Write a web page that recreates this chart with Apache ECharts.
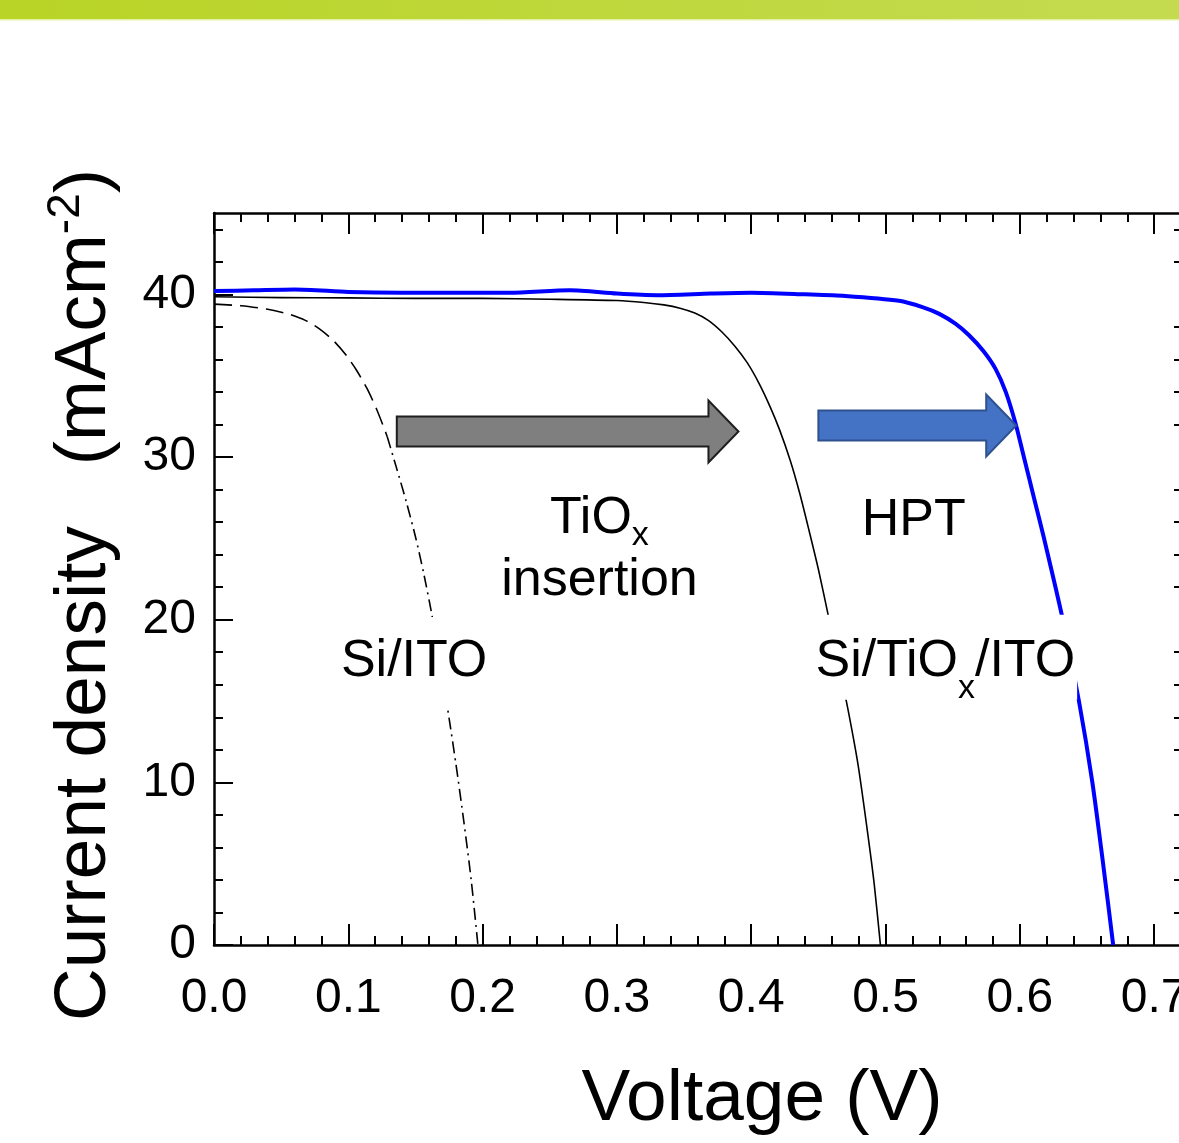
<!DOCTYPE html>
<html>
<head>
<meta charset="utf-8">
<script src="https://cdn.jsdelivr.net/npm/echarts@6/dist/echarts.min.js"></script>
<style>
  html, body { margin: 0; padding: 0; background: #ffffff; }
  #chart { width: 1179px; height: 1143px; }
</style>
</head>
<body>
<div id="chart"></div>
<script>
// J–V curves (voltage in V, current density in mA/cm2)
const hptV = [0, 0.03, 0.06, 0.10, 0.14, 0.18, 0.22, 0.265, 0.30, 0.33, 0.37, 0.40, 0.44, 0.47, 0.51, 0.528, 0.54, 0.552, 0.562, 0.573, 0.582, 0.5895, 0.597, 0.603, 0.6105, 0.618, 0.632, 0.644, 0.654, 0.662, 0.6695];
const hptJ = [40.2, 40.25, 40.3, 40.15, 40.1, 40.1, 40.1, 40.25, 40.05, 39.95, 40.05, 40.1, 40.0, 39.9, 39.6, 39.2, 38.8, 38.2, 37.5, 36.5, 35.4, 34.0, 32.0, 30.0, 27.5, 25.0, 20.0, 15.0, 10.0, 5.0, 0];

const tioxV = [0, 0.05, 0.10, 0.15, 0.20, 0.25, 0.30, 0.32, 0.335, 0.347, 0.358, 0.368, 0.378, 0.388, 0.397, 0.406, 0.414, 0.421, 0.429, 0.436, 0.443, 0.450, 0.457, 0.4645, 0.472, 0.4795, 0.4865, 0.4915, 0.4962];
const tioxJ = [39.85, 39.8, 39.78, 39.75, 39.75, 39.7, 39.62, 39.5, 39.35, 39.15, 38.85, 38.4, 37.7, 36.8, 35.8, 34.5, 33.1, 31.7, 29.8, 27.8, 25.5, 23.1, 20.4, 17.5, 14.5, 11.1, 7.0, 3.8, 0];

// Si/ITO: dashed near the plateau, dash-dot along the steep drop
const itoDashV = [0, 0.02, 0.04, 0.055, 0.068, 0.079, 0.089, 0.098, 0.106, 0.114, 0.121, 0.127, 0.129];
const itoDashJ = [39.4, 39.3, 39.08, 38.8, 38.4, 37.85, 37.15, 36.3, 35.35, 34.2, 32.95, 31.7, 31.25];
const itoDotV = [0.129, 0.136, 0.143, 0.150, 0.156, 0.162, 0.168, 0.174, 0.180, 0.186, 0.1915, 0.1965];
const itoDotJ = [31.25, 29.3, 27.3, 25.1, 22.9, 20.4, 17.6, 14.5, 11.2, 7.6, 4.0, 0];

// Axis ticks
const xMajorTicks = [0, 0.1, 0.2, 0.3, 0.4, 0.5, 0.6, 0.7];
const yMajorTicks = [0, 10, 20, 30, 40];

// Annotations, anchored in data units
const labelNotes = [
  { text: '{a|Si/ITO}', v: 0.149, j: 17.4, pad: [14, 2, 14, 2] },
  { text: '{a|TiO}{t|x}\n{a|insertion}', v: 0.287, j: 24.3, pad: null },
  { text: '{a|HPT}', v: 0.521, j: 26.1, pad: null },
  { text: '{a|Si/TiO}{s|x}{a|/ITO}', v: 0.5445, j: 17.69, pad: [16, 2, 7, 2] }
];
const arrowNotes = [
  { from: 0.1361, to: 0.3905, j: 31.57, fill: '#7f7f7f', stroke: '#1e1e1e' },
  { from: 0.4500, to: 0.5973, j: 31.94, fill: '#4472c4', stroke: '#2f528f' }
];

const FONT = '"Liberation Sans", Arial, Helvetica, sans-serif';
const zip = (a, b) => a.map((v, i) => [v, b[i]]);
const range = (step, max, skip) => {
  const out = [];
  for (let k = 0; k * step <= max + 1e-9; k++) {
    const v = +(k * step).toFixed(4);
    if (!skip || !skip(v)) out.push(v);
  }
  return out;
};

const X_MAX = 0.72, Y_MAX = 45;
const xMinorTicks = range(0.02, X_MAX);
const yMinorTicks = range(2, Y_MAX);
const yRightTicks = range(2, Y_MAX, v => v % 10 === 0);

const tickLine = { color: '#000', width: 2 };
const baseX = (pos, ticks, len, withLine, withLabel) => ({
  type: 'value', position: pos, min: 0, max: X_MAX, interval: 0.1,
  axisLine: { show: withLine, onZero: false, lineStyle: { color: '#000', width: 2.5 } },
  axisTick: { show: true, inside: true, length: len, lineStyle: tickLine, customValues: ticks },
  axisLabel: withLabel ? {
    show: true, customValues: xMajorTicks, fontSize: 48, color: '#000', fontFamily: FONT,
    margin: 30, formatter: v => v.toFixed(1)
  } : { show: false },
  splitLine: { show: false }
});
const baseY = (pos, ticks, len, withLine, withLabel) => ({
  type: 'value', position: pos, min: 0, max: Y_MAX, interval: 10,
  axisLine: { show: withLine, onZero: false, lineStyle: { color: '#000', width: 2.5 } },
  axisTick: { show: true, inside: true, length: len, lineStyle: tickLine, customValues: ticks },
  axisLabel: withLabel ? {
    show: true, customValues: yMajorTicks, fontSize: 48, color: '#000', fontFamily: FONT, margin: 18
  } : { show: false },
  splitLine: { show: false }
});

const lineSeries = (data, color, width, type) => ({
  type: 'line', data, xAxisIndex: 0, yAxisIndex: 0,
  showSymbol: false, smooth: 0.25, silent: true,
  lineStyle: { color, width, type: type || 'solid', cap: 'butt', join: 'round' },
  z: 3
});

const option = {
  animation: false,
  backgroundColor: '#ffffff',
  grid: { left: 214, top: 213, width: 967, height: 732, containLabel: false, outerBoundsMode: 'none' },
  xAxis: [
    baseX('bottom', xMajorTicks, 21, true, true),
    baseX('bottom', xMinorTicks, 9, false, false),
    baseX('top', xMajorTicks, 21, true, false),
    baseX('top', xMinorTicks, 9, false, false)
  ],
  yAxis: [
    baseY('left', yMajorTicks, 19, true, true),
    baseY('left', yMinorTicks, 9, false, false),
    baseY('right', yRightTicks, 7, true, false)
  ],
  series: [
    lineSeries(zip(itoDashV, itoDashJ), '#000', 1.6, [18, 8]),
    lineSeries(zip(itoDotV, itoDotJ), '#000', 1.6, [12, 5, 2, 5]),
    lineSeries(zip(tioxV, tioxJ), '#000', 1.6),
    lineSeries(zip(hptV, hptJ), '#0000ff', 4)
  ]
};

const chart = echarts.init(document.getElementById('chart'), null, { renderer: 'canvas' });
chart.setOption(option);

const toPx = (v, j) => chart.convertToPixel({ seriesIndex: 2 }, [v, j]);

const graphics = [];
// header band
graphics.push({
  type: 'rect', z: 200, silent: true,
  shape: { x: 0, y: 0, width: 1179, height: 19 },
  style: { fill: new echarts.graphic.LinearGradient(0, 0, 1, 0, [
    { offset: 0, color: '#b9d426' }, { offset: 1, color: '#c4db50' }
  ]) }
});
graphics.push({
  type: 'rect', z: 200, silent: true,
  shape: { x: 0, y: 19, width: 1179, height: 1.5 },
  style: { fill: '#e3f1a6' }
});

// block arrows
arrowNotes.forEach(a => {
  const p0 = toPx(a.from, a.j), p1 = toPx(a.to, a.j);
  const y = p0[1], x0 = p0[0], x1 = p1[0];
  const body = 15, head = 31, headLen = 30;
  graphics.push({
    type: 'polygon', z: 50, silent: true,
    shape: { points: [
      [x0, y - body], [x1 - headLen, y - body], [x1 - headLen, y - head], [x1, y],
      [x1 - headLen, y + head], [x1 - headLen, y + body], [x0, y + body]
    ] },
    style: { fill: a.fill, stroke: a.stroke, lineWidth: 2, lineJoin: 'miter' }
  });
});

// curve labels; a white box hides the curves running behind them
labelNotes.forEach(n => {
  const p = toPx(n.v, n.j);
  graphics.push({
    type: 'text', z: 60, silent: true, x: p[0], y: p[1],
    style: {
      text: n.text, align: 'center', verticalAlign: 'middle',
      backgroundColor: n.pad ? '#ffffff' : 'transparent',
      padding: n.pad || 0,
      rich: {
        a: { fontSize: 52, fontFamily: FONT, fill: '#000', lineHeight: 62 },
        s: { fontSize: 34, fontFamily: FONT, fill: '#000', verticalAlign: 'top', lineHeight: 8, padding: [41, 0, 0, 0] },
        t: { fontSize: 34, fontFamily: FONT, fill: '#000', verticalAlign: 'top', lineHeight: 8, padding: [31, 0, 0, 0] }
      }
    }
  });
});

// axis titles
graphics.push({
  type: 'text', z: 60, silent: true, x: 762, y: 1100,
  style: { text: 'Voltage (V)', fontSize: 73, fontFamily: FONT, fill: '#000', align: 'center', verticalAlign: 'middle' }
});
graphics.push({
  type: 'text', z: 60, silent: true, x: 85, y: 595, rotation: Math.PI / 2,
  style: {
    text: '{a|Current density   (mAcm}{s|-2}{a|)}', align: 'center', verticalAlign: 'middle',
    rich: {
      a: { fontSize: 73, fontFamily: FONT, fill: '#000', lineHeight: 84 },
      s: { fontSize: 46, fontFamily: FONT, fill: '#000', verticalAlign: 'top', lineHeight: 50 }
    }
  }
});

chart.setOption({ graphic: graphics });
</script>
</body>
</html>
